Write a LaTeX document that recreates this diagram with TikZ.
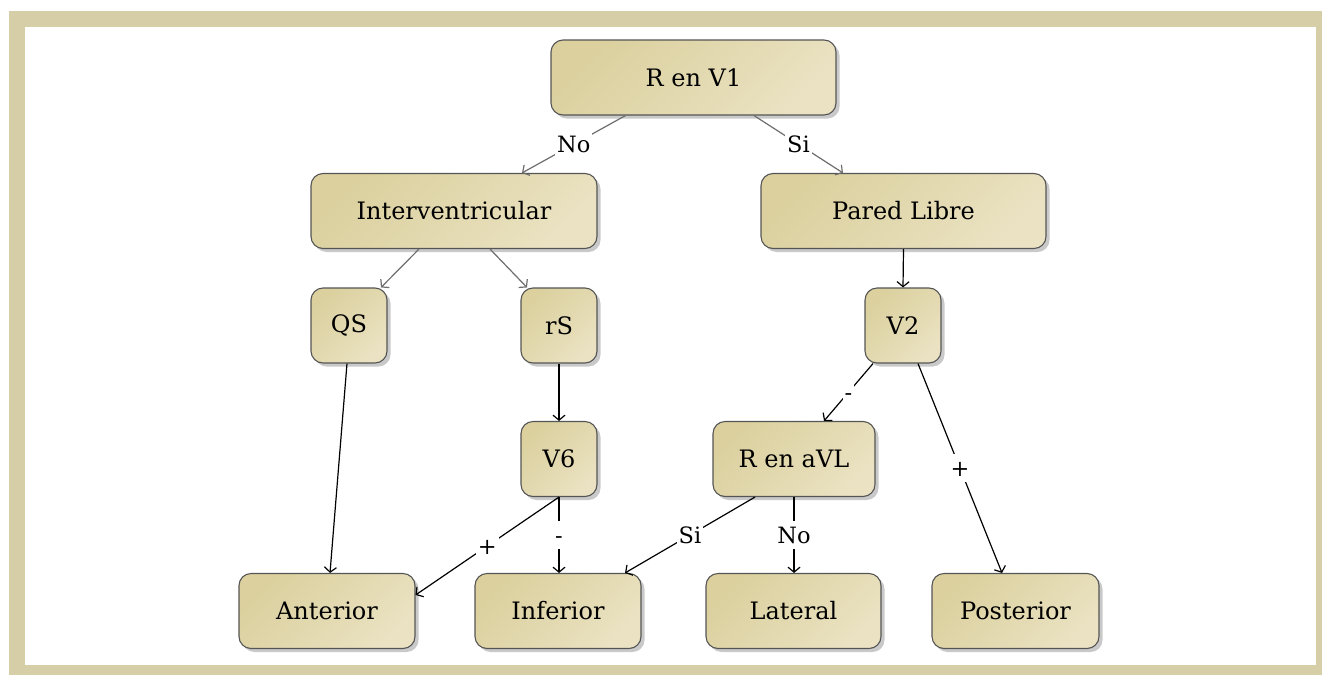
\documentclass[tikz,border=0pt]{standalone}
\usepackage{fontspec}
\setmainfont{DejaVu Serif}
\usetikzlibrary{arrows.meta,shadows,calc}

\definecolor{framecol}{RGB}{214,206,167}
\definecolor{boxA}{RGB}{219,208,158}
\definecolor{boxB}{RGB}{234,226,194}
\definecolor{boxline}{RGB}{85,85,85}
\definecolor{greyline}{RGB}{110,110,110}

\tikzset{
  box/.style={draw=boxline, line width=1.1pt, rounded corners=12pt,
    top color=boxA, bottom color=boxB, shading angle=45,
    minimum height=75pt, inner sep=0pt, text=black,
    font=\fontsize{24}{27}\selectfont,
    drop shadow={shadow xshift=3.5pt, shadow yshift=-3.5pt, fill=black!35, opacity=0.6}},
  link/.style={line width=1.2pt, draw=black, -{Straight Barb[length=5pt,width=12pt]}},
  soft/.style={link, draw=greyline},
  tag/.style={fill=white, inner xsep=2pt, inner ysep=3pt, text height=19pt, text depth=3pt,
    text=black, font=\fontsize{22.5}{25}\selectfont},
}

\begin{document}
\begin{tikzpicture}[x=1pt, y=-1pt]
  \useasboundingbox (0,0) rectangle (1322,675);
  \fill[white] (0,0) rectangle (1322,675);
  % beige frame
  \fill[framecol] (9,11) rectangle (1322,675);
  \fill[white] (25,27) rectangle (1316,665);

  % boxes
  \node[box, minimum width=285pt] (rv1)   at (693.5,77.5) {R en V1};
  \node[box, minimum width=286pt] (inter) at (454,211)    {Interventricular};
  \node[box, minimum width=285pt] (pared) at (903.5,211)  {Pared Libre};
  \node[box, minimum width=76pt]  (qs)    at (349,325.5)  {QS};
  \node[box, minimum width=76pt]  (rs)    at (559,325.5)  {rS};
  \node[box, minimum width=76pt]  (v2)    at (903,325.5)  {V2};
  \node[box, minimum width=76pt]  (v6)    at (559,459)    {V6};
  \node[box, minimum width=162pt] (ravl)  at (794,459)    {R en aVL};
  \node[box, minimum width=176pt] (ant)   at (327,611)    {Anterior};
  \node[box, minimum width=166pt] (inf)   at (558,611)    {Inferior};
  \node[box, minimum width=175pt] (lat)   at (793.5,611)  {Lateral};
  \node[box, minimum width=167pt] (post)  at (1015.5,611) {Posterior};

  % connectors
  \draw[soft] ([xshift=-68pt]rv1.south) -- node[tag]{No} ([xshift=68pt]inter.north);
  \draw[soft] ([xshift=60.5pt]rv1.south) -- node[tag]{Si} ([xshift=-60.5pt]pared.north);
  \draw[soft] ([xshift=-35pt]inter.south) -- ([xshift=32pt]qs.north);
  \draw[soft] ([xshift=36pt]inter.south) -- ([xshift=-32pt]rs.north);
  \draw[link] (pared.south) -- (v2.north);
  \draw[link] ([xshift=-2pt]qs.south) -- ([xshift=3pt]ant.north);
  \draw[link] (rs.south) -- (v6.north);
  \draw[link] ([xshift=-30pt]v2.south) -- node[tag]{-} ([xshift=30pt]ravl.north);
  \draw[link] ([xshift=15pt]v2.south) -- node[tag]{+} ([xshift=-13.5pt]post.north);
  \draw[link] (v6.south) -- node[tag]{+} ([yshift=16pt]ant.east);
  \draw[link] (v6.south) -- node[tag]{-} ([xshift=1pt]inf.north);
  \draw[link] ([xshift=-39pt]ravl.south) -- node[tag]{Si} ([xshift=67pt]inf.north);
  \draw[link] (ravl.south) -- node[tag]{No} ([xshift=0.5pt]lat.north);
\end{tikzpicture}
\end{document}
